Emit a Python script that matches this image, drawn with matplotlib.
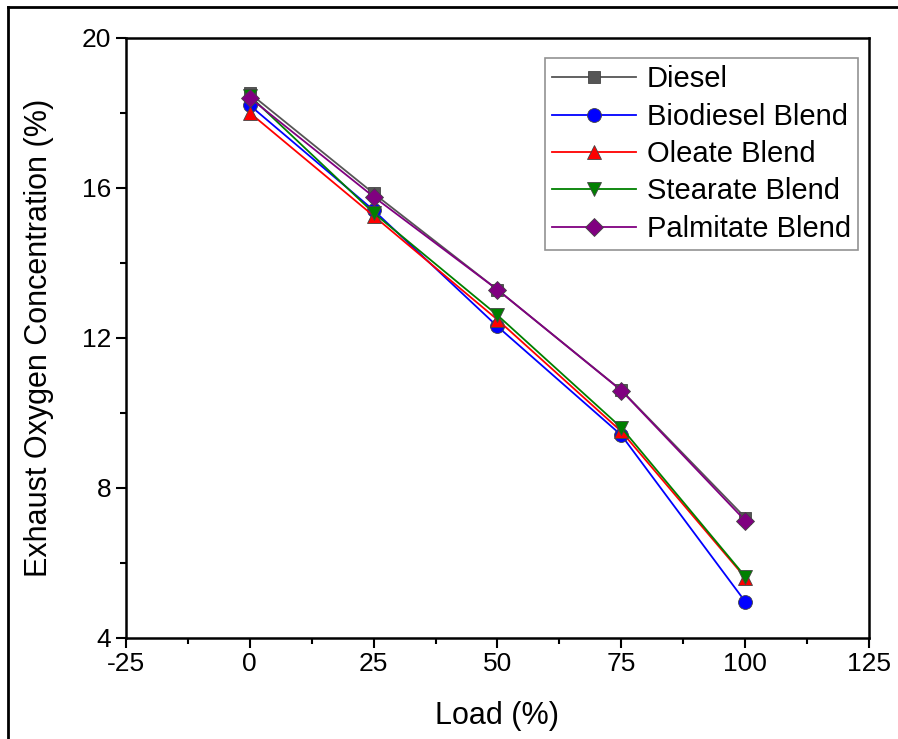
import matplotlib
matplotlib.use("Agg")
import matplotlib.pyplot as plt
from matplotlib.lines import Line2D
from matplotlib.ticker import MultipleLocator

plt.rcParams['font.family'] = ['Liberation Sans', 'DejaVu Sans']
plt.rcParams['axes.unicode_minus'] = False

load = [0, 25, 50, 75, 100]
diesel = [18.52, 15.85, 13.28, 10.6, 7.2]
biodiesel = [18.2, 15.4, 12.3, 9.4, 4.96]
oleate = [18.0, 15.25, 12.48, 9.5, 5.6]
stearate = [18.45, 15.33, 12.6, 9.6, 5.63]
palmitate = [18.4, 15.76, 13.28, 10.59, 7.12]

series = [
    ("Diesel", diesel, "#555555", "#555555", "s", 9),
    ("Biodiesel Blend", biodiesel, "#0000ff", "#0000ff", "o", 10),
    ("Oleate Blend", oleate, "#ff0000", "#ff0000", "^", 10),
    ("Stearate Blend", stearate, "#008000", "#008000", "v", 10),
    ("Palmitate Blend", palmitate, "#800080", "#800080", "D", 9),
]

fig = plt.figure(figsize=(8.98, 7.39), dpi=100)
ax = fig.add_axes([0.140, 0.137, 0.828, 0.812])

for name, vals, lc, mc, mk, ms in series:
    ax.plot(load, vals, color=lc, lw=1.3, marker=mk, markersize=ms,
            markerfacecolor=mc, markeredgecolor="#444444", markeredgewidth=0.6,
            label=name)

ax.set_xlim(-25, 125)
ax.set_ylim(4, 20)
ax.xaxis.set_major_locator(MultipleLocator(25))
ax.xaxis.set_minor_locator(MultipleLocator(12.5))
ax.yaxis.set_major_locator(MultipleLocator(4))
ax.yaxis.set_minor_locator(MultipleLocator(2))
ax.tick_params(which='major', direction='out', length=7, width=1.5, labelsize=19)
ax.tick_params(which='minor', direction='out', length=4, width=1.5)
for s in ax.spines.values():
    s.set_linewidth(1.8)

ax.set_xlabel("Load (%)", fontsize=22, labelpad=18)
ax.set_ylabel("Exhaust Oxygen Concentration (%)", fontsize=22, labelpad=20)

leg = ax.legend(loc='upper right', fontsize=21, frameon=True, fancybox=False,
                edgecolor="#777777", handlelength=2.9, borderpad=0.25,
                labelspacing=0.32, handletextpad=0.35, borderaxespad=0,
                bbox_to_anchor=(0.985, 0.966))
leg.get_frame().set_linewidth(1.2)

# outer frame of the cropped figure
fig.add_artist(Line2D([8 / 898, 1], [1 - 7 / 739, 1 - 7 / 739], color='black', lw=2))
fig.add_artist(Line2D([8 / 898, 8 / 898], [0, 1 - 7 / 739], color='black', lw=2))

fig.savefig("out.png", dpi=100)
